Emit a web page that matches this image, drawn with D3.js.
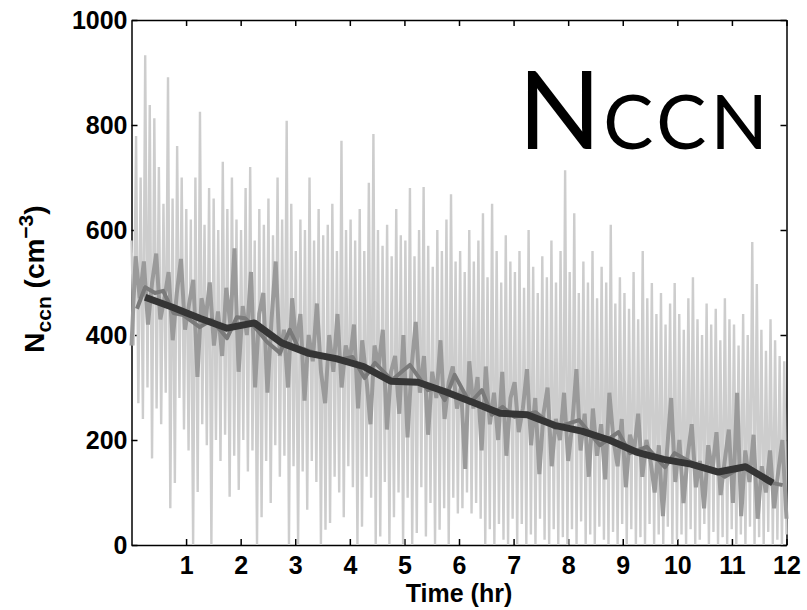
<!DOCTYPE html>
<html>
<head>
<meta charset="utf-8">
<script src="https://cdn.jsdelivr.net/npm/d3@7"></script>
<style>
  body { margin: 0; background: #fff; }
  svg { display: block; }
  .axis text { font-family: "Liberation Sans", Arial, sans-serif; font-weight: bold; font-size: 25px; fill: #000; }
  .axis path, .axis line { stroke: #000; stroke-width: 1.5; }
</style>
</head>
<body>
<svg id="chart" width="807" height="610"></svg>
<script>
// tick labels
const xTicks = [1, 2, 3, 4, 5, 6, 7, 8, 9, 10, 11, 12];
const yTicks = [0, 200, 400, 600, 800, 1000];

// raw samples (light grey), evenly spaced over 0-12 hr
const rawValues = [
  580, 380, 779, 270, 700, 240, 933, 300, 838, 165, 813, 260, 720, 230, 650, 290, 891, 70, 660, 118, 760, 280, 700, 220,
  640, 180, 620, 0, 700, 101, 825, 230, 610, 190, 680, 0, 660, 200, 600, 160, 730, 210, 640, 92, 700, 170, 620, 105,
  600, 200, 680, 140, 720, 180, 580, 0, 640, 53, 610, 160, 660, 80, 590, 190, 700, 130, 620, 170, 808, 0, 650, 150,
  560, 0, 620, 140, 600, 67, 700, 160, 580, 120, 640, 0, 590, 29, 610, 42, 650, 130, 560, 100, 770, 53, 600, 150,
  620, 110, 580, 0, 640, 35, 560, 130, 690, 90, 783, 0, 600, 16, 570, 120, 610, 0, 550, 53, 640, 100, 590, 0,
  580, 90, 680, 0, 550, 23, 600, 110, 682, 16, 570, 80, 530, 0, 600, 29, 560, 70, 620, 0, 668, 90, 540, 60,
  560, 70, 520, 100, 600, 60, 540, 80, 580, 50, 632, 0, 510, 30, 650, 0, 560, 40, 500, 10, 590, 0, 540, 50,
  520, 0, 560, 40, 490, 0, 600, 20, 530, 0, 480, 50, 550, 10, 510, 0, 580, 30, 500, 0, 560, 15, 714, 0,
  520, 30, 632, 0, 480, 45, 540, 0, 500, 20, 560, 0, 470, 35, 530, 10, 500, 0, 610, 25, 460, 0, 510, 40,
  480, 0, 450, 30, 520, 0, 430, 15, 560, 0, 470, 40, 499, 0, 440, 20, 480, 0, 420, 35, 460, 0, 499, 10,
  440, 20, 410, 0, 470, 30, 510, 0, 430, 10, 400, 40, 460, 0, 420, 25, 450, 0, 390, 15, 470, 0, 430, 30,
  420, 0, 380, 20, 440, 0, 400, 35, 577, 0, 497, 15, 410, 0, 370, 25, 430, 0, 390, 10, 360, 0, 350, 20
];

// 1-min averages (medium grey), evenly spaced over 0-12 hr
const minuteValues = [
  380, 550, 470, 540, 420, 500, 555, 430, 470, 520, 390, 480, 545, 410, 460, 505,
  320, 470, 430, 500, 380, 445, 360, 490, 420, 565, 330, 455, 400, 520, 300, 440,
  480, 290, 430, 540, 360, 410, 300, 470, 380, 440, 275, 400, 350, 460, 330, 270,
  400, 330, 440, 300, 380, 350, 420, 260, 390, 320, 230, 380, 340, 410, 220, 330,
  360, 250, 400, 205, 340, 425, 290, 360, 210, 330, 280, 390, 240, 310, 340, 260,
  300, 145, 350, 260, 320, 180, 340, 230, 290, 200, 330, 170, 280, 310, 215, 260,
  335, 190, 280, 135, 250, 300, 150, 240, 200, 290, 160, 230, 335, 180, 250, 130,
  260, 170, 230, 125, 290, 200, 150, 240, 110, 210, 180, 250, 130, 200, 160, 100,
  190, 55, 180, 280, 120, 200, 80, 170, 230, 110, 160, 70, 190, 140, 215, 95,
  160, 220, 80, 290, 55, 180, 120, 210, 50, 150, 100, 180, 70, 140, 200, 50
];

// 10-min averages (grey zigzag)
const tenMinTimes = [0.1, 0.25, 0.43, 0.58, 0.77, 0.95, 1.25, 1.47, 1.75, 1.93, 2.08, 2.26, 2.48, 2.72, 2.9, 3.05, 3.36, 3.6, 3.78, 4.05,
  4.27, 4.46, 4.77, 4.95, 5.1, 5.43, 5.6, 5.74, 5.92, 6.2, 6.42, 6.6, 6.8, 7.02, 7.4, 7.76, 8.2, 8.58, 8.92, 9.13,
  9.44, 9.77, 9.95, 10.27, 10.68, 10.87, 11.18, 11.45, 11.66, 11.93];
const tenMinValues = [450, 491, 480, 484, 442, 438, 415, 429, 394, 434, 432, 415, 387, 366, 410, 377, 366, 355, 352, 358,
  318, 347, 314, 330, 343, 295, 300, 276, 324, 270, 295, 248, 263, 244, 253, 223, 238, 190, 215, 175,
  187, 148, 175, 156, 143, 130, 149, 138, 120, 114];

// 30-min averages (dark line)
const halfHourTimes = [0.25, 0.75, 1.25, 1.75, 2.25, 2.75, 3.25, 3.75, 4.25, 4.75, 5.25, 5.75,
  6.25, 6.75, 7.25, 7.75, 8.25, 8.75, 9.25, 9.75, 10.25, 10.75, 11.25, 11.75];
const halfHourValues = [472, 453, 432, 413, 423, 385, 365, 355, 340, 312, 310, 292,
  272, 251, 248, 228, 217, 200, 177, 163, 154, 139, 149, 118];

const svg = d3.select('#chart');
const x = d3.scaleLinear().domain([0, 12]).range([131.5, 786.5]);
const y = d3.scaleLinear().domain([0, 1000]).range([545, 20]);

// axes box with inward ticks
svg.append('g').attr('class', 'axis').attr('transform', 'translate(0,545)')
  .call(d3.axisBottom(x).tickValues(xTicks).tickSize(-6).tickSizeOuter(0).tickPadding(11).tickFormat(d3.format('d')));
svg.append('g').attr('class', 'axis').attr('transform', 'translate(0,20)')
  .call(d3.axisTop(x).tickValues(xTicks).tickSize(-6).tickSizeOuter(0).tickFormat(''));
svg.append('g').attr('class', 'axis').attr('transform', 'translate(131.5,0)')
  .call(d3.axisLeft(y).tickValues(yTicks).tickSize(-6).tickSizeOuter(0).tickPadding(4).tickFormat(d3.format('d')));
svg.append('g').attr('class', 'axis').attr('transform', 'translate(786.5,0)')
  .call(d3.axisRight(y).tickValues(yTicks).tickSize(-6).tickSizeOuter(0).tickFormat(''));
svg.selectAll('.axis .tick line').attr('stroke-width', 1.2);

const evenly = (n) => (d, i) => x(i * 12 / (n - 1));

const rawLine = d3.line().x(evenly(rawValues.length)).y((d) => y(d));
const minuteLine = d3.line().x(evenly(minuteValues.length)).y((d) => y(d));
const pairLine = d3.line().x((d) => x(d[0])).y((d) => y(d[1]));

svg.append('path').datum(rawValues).attr('d', rawLine)
  .attr('fill', 'none').attr('stroke', '#cdcdcd').attr('stroke-width', 2.4).attr('stroke-linejoin', 'bevel');

svg.append('path').datum(minuteValues).attr('d', minuteLine)
  .attr('fill', 'none').attr('stroke', '#9a9a9a').attr('stroke-width', 4).attr('stroke-linejoin', 'bevel');

svg.append('path').datum(d3.zip(tenMinTimes, tenMinValues)).attr('d', pairLine)
  .attr('fill', 'none').attr('stroke', '#7a7a7a').attr('stroke-width', 4).attr('stroke-linejoin', 'round');

svg.append('path').datum(d3.zip(halfHourTimes, halfHourValues)).attr('d', pairLine)
  .attr('fill', 'none').attr('stroke', '#353535').attr('stroke-width', 7).attr('stroke-linejoin', 'round');

// axis titles
svg.append('text')
  .attr('x', 459).attr('y', 602)
  .attr('text-anchor', 'middle')
  .style('font-family', '"Liberation Sans", Arial, sans-serif')
  .style('font-weight', 'bold').style('font-size', '25px')
  .text('Time (hr)');

const yLabel = svg.append('text')
  .attr('transform', 'translate(44,279) rotate(-90)')
  .attr('text-anchor', 'middle')
  .style('font-family', '"Liberation Sans", Arial, sans-serif')
  .style('font-weight', 'bold').style('font-size', '28px');
yLabel.append('tspan').text('N');
yLabel.append('tspan').attr('dy', 7).style('font-size', '21px').text('ccn');
yLabel.append('tspan').attr('dy', -7).text(' (cm');
yLabel.append('tspan').attr('dy', -11).style('font-size', '21px').text('\u22123');
yLabel.append('tspan').attr('dy', 11).text(')');

// panel title
const title = svg.append('text')
  .attr('x', 518).attr('y', 149)
  .style('font-family', 'Lato, "Open Sans", sans-serif')
  .style('font-weight', 400);
title.append('tspan').style('font-size', '109px').text('N');
title.append('tspan').style('font-size', '75px').attr('dx', 2).style('letter-spacing', '4px').text('CCN');
</script>
</body>
</html>
